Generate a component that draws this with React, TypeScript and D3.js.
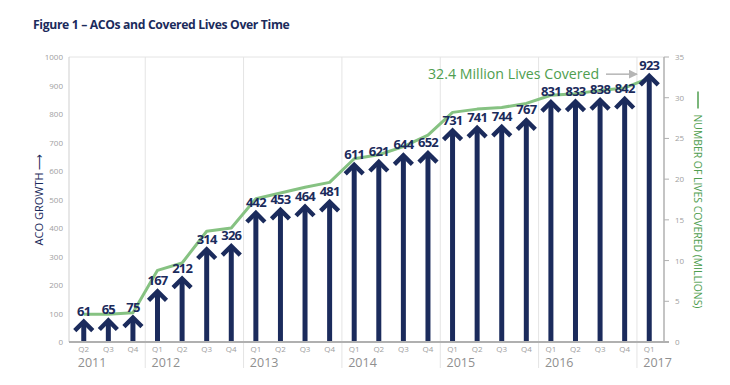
import React from 'react';
import * as d3 from 'd3';

// --- Data ---
const quarters = ['Q2', 'Q3', 'Q4', 'Q1', 'Q2', 'Q3', 'Q4', 'Q1', 'Q2', 'Q3', 'Q4', 'Q1', 'Q2', 'Q3', 'Q4', 'Q1', 'Q2', 'Q3', 'Q4', 'Q1', 'Q2', 'Q3', 'Q4', 'Q1'];
const periodYears = ['2011', '2011', '2011', '2012', '2012', '2012', '2012', '2013', '2013', '2013', '2013', '2014', '2014', '2014', '2014', '2015', '2015', '2015', '2015', '2016', '2016', '2016', '2016', '2017'];
const acoCounts = [61, 65, 75, 167, 212, 314, 326, 442, 453, 464, 481, 611, 621, 644, 652, 731, 741, 744, 767, 831, 833, 838, 842, 923];
const livesCovered = [3.4, 3.4, 3.6, 8.8, 9.7, 13.6, 14.0, 17.6, 18.3, 19.0, 19.6, 22.5, 23.0, 24.0, 25.4, 28.2, 28.6, 28.8, 29.3, 30.3, 30.5, 30.9, 31.2, 32.4];
const years = ['2011', '2012', '2013', '2014', '2015', '2016', '2017'];
const leftTicks = d3.range(0, 1001, 100);
const rightTicks = d3.range(0, 36, 5);

const W = 730, H = 385;
const NAVY = '#1b2b5c';
const GREEN_LINE = '#86c282';
const GREEN_TEXT = '#4f9e4f';
const GRID = '#e4e4e4';
const FONT = '"Open Sans", "Noto Sans", sans-serif';

const plot = { left: 69, right: 664, top: 57, bottom: 342 };

export default function App() {
  const keys = quarters.map((q, i) => `${periodYears[i]}-${q}`);
  const x = d3.scalePoint<string>().domain(keys).range([plot.left, plot.right]).padding(0.6);
  const yL = d3.scaleLinear().domain([0, 1000]).range([plot.bottom, plot.top]);
  const yR = d3.scaleLinear().domain([0, 35]).range([plot.bottom, plot.top]);
  const step = x.step();

  const line = d3.line<number>()
    .x((_, i) => x(keys[i])!)
    .y(d => yR(d))
    .curve(d3.curveLinear);

  // year group boundaries
  const firstIdx = years.map(y => periodYears.indexOf(y));
  const separators = firstIdx.slice(1).map(i => x(keys[i])! - step / 2);

  const annY = yR(32.4) - 4;

  return (
    <div style={{ position: 'absolute', left: 0, top: 0 }}>
      <svg width={W} height={H} style={{ display: 'block', background: '#fff' }} fontFamily={FONT}>
        <defs>
          <marker id="ann-head" viewBox="0 0 10 10" refX="9" refY="5" markerWidth="6" markerHeight="6" orient="auto">
            <path d="M0,0 L10,5 L0,10 z" fill="#b5b5b5" />
          </marker>
        </defs>

        <text x={33} y={29} fontSize={12.2} fontWeight={700} fill={NAVY} letterSpacing={-0.35}>Figure 1 – ACOs and Covered Lives Over Time</text>

        {/* frame */}
        <line x1={plot.left} x2={plot.right} y1={plot.top} y2={plot.top} stroke={GRID} />
        <line x1={plot.left} x2={plot.left} y1={plot.top} y2={plot.bottom} stroke="#cfcfcf" />
        {separators.map((sx, i) => (
          <line key={i} x1={sx} x2={sx} y1={plot.top} y2={368} stroke={GRID} />
        ))}
        <line x1={plot.right} x2={plot.right} y1={plot.top} y2={plot.bottom} stroke="#b0b0b0" strokeWidth={1.5} />
        <line x1={plot.left} x2={plot.right + 5} y1={plot.bottom} y2={plot.bottom} stroke="#b0b0b0" strokeWidth={2} />

        {/* left axis */}
        {leftTicks.map(t => (
          <text key={t} x={63} y={yL(t) + 3} fontSize={8} fill="#a0a0a0" textAnchor="end">{t}</text>
        ))}
        <text transform={`translate(43,${(plot.top + plot.bottom) / 2}) rotate(-90)`} fontSize={11} fill={NAVY} textAnchor="middle">ACO GROWTH ⟶</text>

        {/* right axis */}
        {rightTicks.map(t => (
          <g key={t}>
            <line x1={plot.right} x2={plot.right + 5} y1={yR(t)} y2={yR(t)} stroke="#b0b0b0" />
            <text x={675} y={yR(t) + 3} fontSize={8} fill="#a0a0a0">{t}</text>
          </g>
        ))}
        <g transform={`translate(694,${(plot.top + plot.bottom) / 2}) rotate(90)`}>
          <line x1={-108} x2={-91} y1={-4} y2={-4} stroke={GREEN_TEXT} strokeWidth={1.5} />
          <text x={-85} y={0} fontSize={10.4} fill={GREEN_TEXT}>NUMBER OF LIVES COVERED (MILLIONS)</text>
        </g>

        {/* x axis labels */}
        {keys.map((k, i) => (
          <text key={k} x={x(k)!} y={352} fontSize={8} fill="#a0a0a0" textAnchor="middle">{quarters[i]}</text>
        ))}
        {years.map((yr, i) => (
          <text key={yr} x={x(keys[firstIdx[i]])! - 6} y={367} fontSize={12.5} fill="#8f8f8f">{yr}</text>
        ))}

        {/* lives covered line */}
        <path d={line(livesCovered) || ''} fill="none" stroke={GREEN_LINE} strokeWidth={3} strokeLinejoin="round" />

        {/* ACO arrows */}
        {acoCounts.map((v, i) => {
          const cx = x(keys[i])!;
          const tip = yL(v) - 4;
          return (
            <g key={keys[i]}>
              <line x1={cx} x2={cx} y1={plot.bottom - 1} y2={tip + 2} stroke={NAVY} strokeWidth={5} />
              <path d={`M${cx - 9},${tip + 10} L${cx},${tip + 1} L${cx + 9},${tip + 10}`} fill="none" stroke={NAVY} strokeWidth={4.5} strokeLinecap="butt" strokeLinejoin="miter" />
              <text x={cx} y={yL(v) - 9} fontSize={13} fontWeight={700} fill={NAVY} textAnchor="middle" letterSpacing={-0.8}>{v}</text>
            </g>
          );
        })}

        {/* annotation */}
        <text x={428} y={annY + 5} fontSize={14.2} fill={GREEN_TEXT}>32.4 Million Lives Covered</text>
        <line x1={606} x2={637} y1={annY} y2={annY} stroke="#b5b5b5" strokeWidth={1.5} markerEnd="url(#ann-head)" />
      </svg>
    </div>
  );
}
